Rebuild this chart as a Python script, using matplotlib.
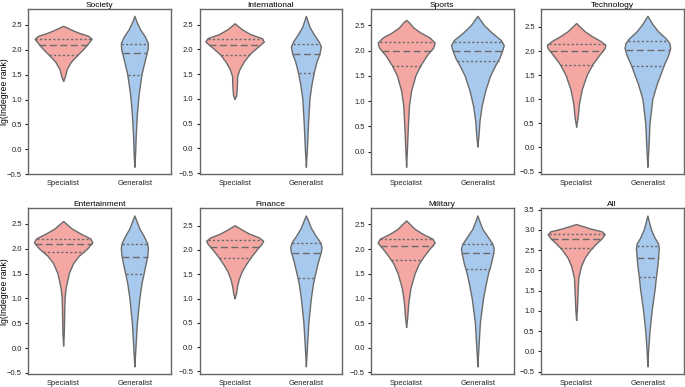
import numpy as np
import matplotlib
matplotlib.use("Agg")
import matplotlib.pyplot as plt

plt.rcParams['font.family'] = ['Liberation Sans', 'DejaVu Sans']

panels = ["Society", "International", "Sports", "Technology",
          "Entertainment", "Finance", "Military", "All"]
groups = ["Specialist", "Generalist"]

# violin outlines: (lg rank, half width)
spec_profiles = [
    [(1.37, 0), (1.45, 0.025), (1.6, 0.05), (1.75, 0.11), (1.9, 0.21), (2.0, 0.28), (2.1, 0.34),
     (2.21, 0.40), (2.27, 0.35), (2.32, 0.24), (2.37, 0.15), (2.43, 0.06), (2.47, 0)],
    [(1.0, 0), (1.05, 0.02), (1.2, 0.03), (1.3, 0.033), (1.45, 0.035), (1.6, 0.07), (1.75, 0.13),
     (1.9, 0.21), (2.05, 0.33), (2.15, 0.41), (2.22, 0.38), (2.3, 0.22), (2.4, 0.1), (2.47, 0.04), (2.52, 0)],
    [(-0.3, 0), (0.0, 0.01), (0.5, 0.025), (0.9, 0.04), (1.2, 0.07), (1.5, 0.13), (1.7, 0.2),
     (1.9, 0.29), (2.05, 0.38), (2.15, 0.40), (2.25, 0.33), (2.35, 0.2), (2.45, 0.1), (2.55, 0.04), (2.6, 0)],
    [(0.43, 0), (0.6, 0.02), (0.9, 0.04), (1.2, 0.08), (1.5, 0.15), (1.72, 0.23), (1.9, 0.32),
     (2.05, 0.4), (2.12, 0.41), (2.2, 0.34), (2.3, 0.22), (2.4, 0.12), (2.5, 0.05), (2.57, 0)],
    [(0.05, 0), (0.3, 0.01), (0.7, 0.015), (1.0, 0.02), (1.2, 0.035), (1.5, 0.08), (1.7, 0.14),
     (1.85, 0.22), (2.0, 0.34), (2.12, 0.41), (2.2, 0.38), (2.3, 0.24), (2.4, 0.12), (2.5, 0.04), (2.55, 0)],
    [(1.0, 0), (1.1, 0.02), (1.25, 0.035), (1.4, 0.06), (1.55, 0.1), (1.7, 0.16), (1.85, 0.23),
     (2.0, 0.31), (2.12, 0.38), (2.18, 0.40), (2.25, 0.34), (2.33, 0.2), (2.42, 0.09), (2.5, 0)],
    [(0.42, 0), (0.6, 0.015), (0.9, 0.03), (1.2, 0.06), (1.5, 0.12), (1.7, 0.18), (1.85, 0.25),
     (2.0, 0.33), (2.12, 0.40), (2.2, 0.37), (2.3, 0.23), (2.4, 0.12), (2.5, 0.05), (2.57, 0)],
    [(0.77, 0), (1.0, 0.01), (1.4, 0.02), (1.8, 0.03), (2.1, 0.07), (2.3, 0.12), (2.5, 0.2),
     (2.65, 0.28), (2.78, 0.36), (2.88, 0.40), (2.95, 0.36), (3.02, 0.2), (3.08, 0.09), (3.13, 0)],
]
gen_profiles = [
    [(-0.35, 0), (-0.1, 0.01), (0.3, 0.02), (0.7, 0.035), (1.1, 0.06), (1.5, 0.1), (1.8, 0.15),
     (2.0, 0.185), (2.12, 0.19), (2.25, 0.15), (2.4, 0.08), (2.55, 0.03), (2.67, 0)],
    [(-0.37, 0), (0.0, 0.015), (0.5, 0.03), (1.0, 0.05), (1.3, 0.08), (1.52, 0.11), (1.75, 0.15),
     (1.9, 0.19), (2.05, 0.21), (2.15, 0.18), (2.3, 0.11), (2.45, 0.05), (2.58, 0.02), (2.67, 0)],
    [(0.1, 0), (0.3, 0.015), (0.6, 0.03), (0.9, 0.06), (1.2, 0.11), (1.5, 0.18), (1.7, 0.25),
     (1.85, 0.31), (2.0, 0.35), (2.1, 0.37), (2.2, 0.33), (2.35, 0.2), (2.5, 0.09), (2.6, 0.04), (2.68, 0)],
    [(-0.4, 0), (0.0, 0.015), (0.5, 0.03), (1.0, 0.07), (1.3, 0.13), (1.5, 0.18), (1.7, 0.23),
     (1.9, 0.29), (2.05, 0.32), (2.15, 0.31), (2.25, 0.26), (2.4, 0.15), (2.55, 0.07), (2.65, 0.03), (2.72, 0)],
    [(-0.37, 0), (0.0, 0.015), (0.5, 0.035), (1.0, 0.07), (1.3, 0.1), (1.5, 0.13), (1.7, 0.16),
     (1.85, 0.18), (2.0, 0.19), (2.1, 0.18), (2.25, 0.13), (2.4, 0.07), (2.55, 0.03), (2.66, 0)],
    [(-0.4, 0), (0.0, 0.015), (0.5, 0.035), (1.0, 0.07), (1.3, 0.1), (1.5, 0.13), (1.75, 0.17),
     (1.95, 0.21), (2.05, 0.22), (2.15, 0.2), (2.3, 0.13), (2.45, 0.07), (2.6, 0.03), (2.7, 0)],
    [(-0.38, 0), (0.0, 0.015), (0.5, 0.035), (1.0, 0.08), (1.3, 0.12), (1.5, 0.15), (1.7, 0.19),
     (1.9, 0.22), (2.0, 0.23), (2.1, 0.21), (2.25, 0.14), (2.4, 0.07), (2.55, 0.03), (2.67, 0)],
    [(-0.37, 0), (0.0, 0.01), (0.5, 0.03), (1.0, 0.06), (1.5, 0.1), (1.83, 0.12), (2.1, 0.14),
     (2.3, 0.15), (2.55, 0.16), (2.65, 0.15), (2.8, 0.1), (3.0, 0.05), (3.2, 0.02), (3.34, 0)],
]

# lower quartile, median, upper quartile
spec_quartiles = [[1.9, 2.1, 2.21], [1.89, 2.09, 2.21], [1.7, 2.0, 2.18], [1.72, 2.0, 2.15],
                  [1.94, 2.1, 2.2], [1.83, 2.07, 2.2], [1.78, 2.07, 2.2], [2.55, 2.77, 2.9]]
gen_quartiles = [[1.5, 1.93, 2.12], [1.52, 1.9, 2.12], [1.8, 2.0, 2.18], [1.68, 2.02, 2.2],
                 [1.5, 1.84, 2.1], [1.43, 1.93, 2.14], [1.6, 1.93, 2.11], [1.83, 2.3, 2.6]]

colors = ["#f4a7a3", "#a8c9ee"]
edge = "#6b6b6b"

fig = plt.figure(figsize=(6.85, 3.87), dpi=100)

W, H = 685.0, 387.0
col_left = [28, 199.5, 371, 541]
row_bottom = [174.3, 374]
ax_w, ax_h = 142.5, 165.5


def draw_violin(ax, pos, profile, quarts, color):
    y = np.array([p[0] for p in profile])
    w = np.array([p[1] for p in profile])
    ax.fill_betweenx(y, pos - w, pos + w, facecolor=color, edgecolor="none", zorder=1)
    ax.plot(np.concatenate([pos - w, (pos + w)[::-1]]), np.concatenate([y, y[::-1]]),
            color=edge, lw=1.0, zorder=2, solid_joinstyle="round")
    for i, q in enumerate(quarts):
        hw = np.interp(q, y, w)
        ls = (0, (5, 2.5)) if i == 1 else (0, (1.6, 1.6))
        ax.plot([pos - hw, pos + hw], [q, q], color=edge, lw=1.0, ls=ls, zorder=3)


for k, name in enumerate(panels):
    r, c = divmod(k, 4)
    ax = fig.add_axes([col_left[c] / W, 1 - row_bottom[r] / H, ax_w / W, ax_h / H])
    draw_violin(ax, 0, spec_profiles[k], spec_quartiles[k], colors[0])
    draw_violin(ax, 1, gen_profiles[k], gen_quartiles[k], colors[1])
    ax.set_xlim(-0.5, 1.5)
    ax.margins(y=0.05)
    ax.set_xticks([0, 1])
    ax.set_xticklabels(groups)
    ax.set_title(name, fontsize=6, pad=1.5)
    ax.tick_params(axis="x", labelsize=5.5, length=0, pad=4, colors="#222222")
    ax.tick_params(axis="y", labelsize=5.5, length=2.5, width=0.8, pad=2,
                   colors="#222222")
    for s in ax.spines.values():
        s.set_color("#666666")
        s.set_linewidth(1.0)
    if c == 0:
        ax.set_ylabel("lg(Indegree rank)", fontsize=6.2)
        ax.yaxis.set_label_coords(-0.13, 0.5)

fig.savefig("out.png", dpi=100)
